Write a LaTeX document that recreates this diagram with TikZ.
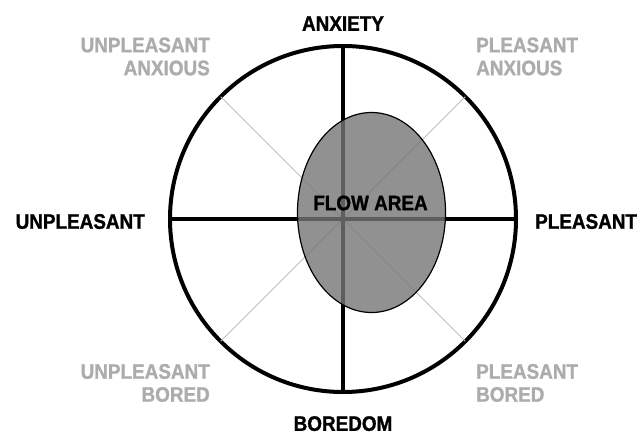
\documentclass[tikz,border=0pt]{standalone}
\usepackage{fontspec}
\usepackage{xcolor}
\usepackage{tikz}
\usetikzlibrary{shapes.geometric,positioning}
\newfontfamily\diafont[FakeStretch=0.9,FakeBold=1.2]{Liberation Sans}
\definecolor{inkgray}{RGB}{172,172,172}
\definecolor{spokegray}{RGB}{190,190,190}
\definecolor{flowgray}{RGB}{118,118,118}
\tikzset{
  wheelring/.style={circle,draw=black,line width=4pt,minimum size=346pt,inner sep=0pt,outer sep=0pt},
  axis/.style={draw=black,line width=3.4pt},
  spoke/.style={draw=spokegray,line width=1pt},
  flowblob/.style={ellipse,draw=black,line width=1.2pt,fill=flowgray,fill opacity=0.8,
                   minimum width=148pt,minimum height=200pt,inner sep=0pt},
  mainlab/.style={font=\diafont\bfseries\fontsize{21}{22}\selectfont,text=black,inner sep=0pt},
  sidelab/.style={font=\diafont\bfseries\fontsize{21}{23}\selectfont,text=inkgray,inner sep=0pt},
}
\begin{document}
\begin{tikzpicture}[x=1pt,y=-1pt]
  \useasboundingbox (0,0) rectangle (639,441);
  \node[wheelring] (wheel) at (343,219) {};
  \draw[spoke] (wheel.north west) -- (wheel.south east);
  \draw[spoke] (wheel.north east) -- (wheel.south west);
  \draw[axis] (wheel.north) -- (wheel.south);
  \draw[axis] (wheel.west) -- (wheel.east);
  \node[flowblob] (flow) at (371.5,212.5) {};
  \node[mainlab] (flowlab) at (370.5,203) {FLOW AREA};

  \node[mainlab,above=15pt of wheel.north] (anx) {ANXIETY};
  \node[mainlab,below=24pt of wheel.south] (bore) {BOREDOM};
  \node[mainlab,left=25pt of wheel.west,yshift=-2.5pt] (unpl) {UNPLEASANT};
  \node[mainlab,right=19pt of wheel.east,yshift=-2.5pt] (pl) {PLEASANT};

  \node[sidelab,align=right,anchor=east] (unanx) at (210,56.5) {UNPLEASANT\\ANXIOUS};
  \node[sidelab,align=left,anchor=west] (planx) at (476,56.5) {PLEASANT\\ANXIOUS};
  \node[sidelab,align=right,anchor=east] (unbor) at (210,383) {UNPLEASANT\\BORED};
  \node[sidelab,align=left,anchor=west] (plbor) at (476,383) {PLEASANT\\BORED};
\end{tikzpicture}
\end{document}
